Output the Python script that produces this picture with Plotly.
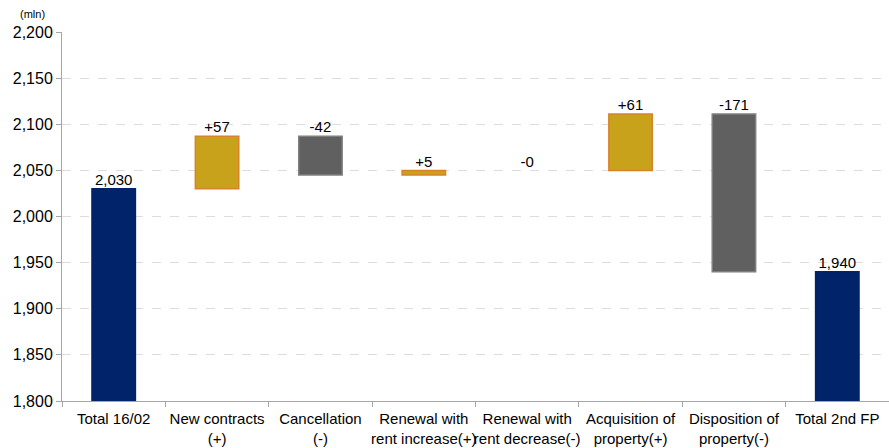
import plotly.graph_objects as go

categories = ["Total 16/02", "New contracts<br>(+)", "Cancellation<br>(-)",
              "Renewal with<br>rent increase(+)", "Renewal with<br>rent decrease(-)",
              "Acquisition of<br>property(+)", "Disposition of<br>property(-)", "Total 2nd FP"]
kinds = ["total", "inc", "dec", "inc", "dec", "inc", "dec", "total"]
values = [2030, 57, -42, 5, -0.0, 61, -171, 1940]
labels = ["2,030", "+57", "-42", "+5", "-0", "+61", "-171", "1,940"]
y_ticks = [1800, 1850, 1900, 1950, 2000, 2050, 2100, 2150, 2200]

fill = {"total": "#002369", "inc": "#C8A21A", "dec": "#606060"}
edge = {"total": "#002369", "inc": "#D9822B", "dec": "#7F7F7F"}

bases, heights, tops = [], [], []
running = 0
for k, v in zip(kinds, values):
    if k == "total":
        bases.append(1800)
        heights.append(v - 1800)
        running = v
        tops.append(v)
    else:
        new = running + v
        lo, hi = min(running, new), max(running, new)
        bases.append(lo)
        heights.append(hi - lo)
        tops.append(hi)
        running = new

line_w = [1.5 if h > 0 else 0 for h in heights]

fig = go.Figure()
fig.add_trace(go.Bar(
    x=categories, y=heights, base=bases, width=0.42,
    marker=dict(color=[fill[k] for k in kinds],
                line=dict(color=[edge[k] for k in kinds], width=line_w)),
    hoverinfo="skip", showlegend=False,
))
fig.add_trace(go.Scatter(
    x=categories, y=tops, mode="text", text=labels, textposition="top center",
    textfont=dict(family="Liberation Sans, Arial", size=15, color="#000000"),
    showlegend=False, hoverinfo="skip", cliponaxis=False,
))

fig.update_layout(
    width=889, height=448,
    margin=dict(l=62, r=0, t=32, b=47),
    plot_bgcolor="white", paper_bgcolor="white",
    font=dict(family="Liberation Sans, Arial", color="#000000"),
    bargap=0.58,
    xaxis=dict(type="category", tickson="boundaries", ticks="outside", ticklen=5,
               tickcolor="#A6A6A6", showline=True, linecolor="#A6A6A6", linewidth=1,
               showgrid=False, tickfont=dict(size=15), range=[-0.5, 7.5],
               tickangle=0, automargin=False, ticklabelstandoff=4),
    yaxis=dict(range=[1800, 2200], tickvals=y_ticks, tickformat=",", ticks="outside",
               ticklen=5, tickcolor="#A6A6A6", showline=True, linecolor="#A6A6A6",
               linewidth=1, showgrid=True, gridcolor="#DDDDDD", griddash="dash",
               gridwidth=1, zeroline=False, tickfont=dict(size=16), automargin=False),
    annotations=[dict(text="(mln)", xref="paper", yref="paper", x=-0.036, y=1.05,
                      xanchor="center", yanchor="middle", showarrow=False,
                      font=dict(size=11))],
)
fig.write_html("out.html")
